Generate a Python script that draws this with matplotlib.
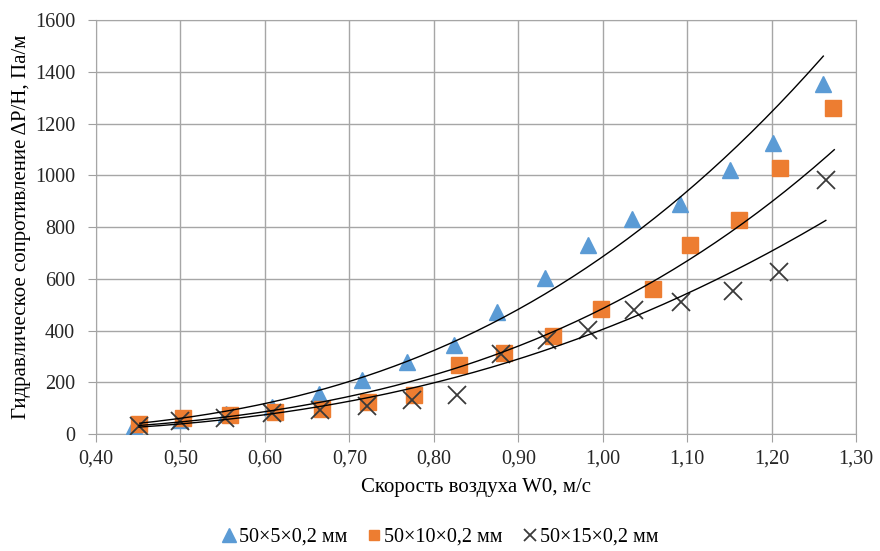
import numpy as np
import matplotlib as mpl

mpl.use("Agg")
import matplotlib.pyplot as plt  # noqa

plt.rcParams['font.family'] = ['Liberation Serif', 'DejaVu Serif']

# 50x5x0,2 mm
w1 = [0.445, 0.500, 0.554, 0.608, 0.664, 0.715, 0.768, 0.824, 0.875, 0.932,
      0.982, 1.034, 1.091, 1.150, 1.202, 1.261]
p1 = [30, 55, 77, 104, 155, 209, 278, 344, 471, 603,
      730, 831, 889, 1020, 1125, 1353]
# 50x10x0,2 mm
w2 = [0.451, 0.503, 0.559, 0.612, 0.668, 0.722, 0.777, 0.830, 0.883, 0.941,
      0.998, 1.059, 1.103, 1.161, 1.210, 1.273]
p2 = [39, 62, 73, 85, 97, 124, 151, 267, 313, 379,
      483, 560, 730, 827, 1028, 1260]
# 50x15x0,2 mm
w3 = [0.451, 0.500, 0.553, 0.609, 0.665, 0.721, 0.774, 0.828, 0.880, 0.934,
      0.983, 1.037, 1.093, 1.154, 1.208, 1.264]
p3 = [31, 50, 62, 81, 93, 108, 131, 151, 309, 363,
      402, 479, 510, 553, 626, 982]

# points
t1_w = [0.452, 0.60, 0.80, 0.857, 0.90, 1.00, 1.10, 1.20, 1.261]
t1_p = [42, 116, 328, 411, 487, 676, 916, 1256, 1472]
t2_w = [0.451, 0.60, 0.80, 1.00, 1.20, 1.274]
t2_p = [33, 86, 228, 487, 904, 1090]
t3_w = [0.451, 0.60, 0.80, 1.00, 1.20, 1.264]
t3_p = [27, 73, 196, 420, 703, 815]

labels = ['50×5×0,2 мм', '50×10×0,2 мм', '50×15×0,2 мм']
xticks = [0.40, 0.50, 0.60, 0.70, 0.80, 0.90, 1.00, 1.10, 1.20, 1.30]
yticks = [0, 200, 400, 600, 800, 1000, 1200, 1400, 1600]


def smooth_curve(x, y):
    # smooth trendline through the read points (quadratic in log-log)
    c = np.polyfit(np.log(x), np.log(y), 2)
    xs = np.linspace(min(x), max(x), 200)
    return xs, np.exp(np.polyval(c, np.log(xs)))


fig = plt.figure(figsize=(8.8, 5.51), dpi=100)
ax = fig.add_axes([0.109, 0.2123, 0.864, 0.7514])

ax.plot(w1, p1, '^', color='#5B9BD5', ms=12, mec='#5B9BD5', label=labels[0], zorder=3)
ax.plot(w2, p2, 's', color='#ED7D31', ms=12, mec='#ED7D31', label=labels[1], zorder=3)
ax.plot(w3, p3, 'x', color='#3a3a3a', ms=13, mew=1.3, label=labels[2], zorder=3)

for w, p in ((t1_w, t1_p), (t2_w, t2_p), (t3_w, t3_p)):
    xs, ys = smooth_curve(w, p)
    ax.plot(xs, ys, '-', color='black', lw=1.0, zorder=4)

ax.set_xlim(0.40, 1.30)
ax.set_ylim(0, 1600)
ax.set_xticks(xticks)
ax.set_yticks(yticks)
ax.set_xticklabels([f'{v:.2f}'.replace('.', ',') for v in xticks])
ax.tick_params(labelsize=14.5, color='#a0a0a0', length=6, labelcolor='#262626')
ax.tick_params(axis='y', pad=9)
ax.tick_params(axis='x', pad=5)
ax.grid(True, color='#a6a6a6', lw=1)
for s in ax.spines.values():
    s.set_color('#a6a6a6')

ax.set_xlabel('Скорость воздуха W0, м/с', fontsize=15, labelpad=7)
ax.set_ylabel('Гидравлическое сопротивление ΔP/H, Па/м', fontsize=15, labelpad=3)

leg = fig.legend(loc='center', bbox_to_anchor=(0.5, 0.025), ncol=3, frameon=False,
                 fontsize=14.5, handlelength=0.7, handletextpad=0.15, columnspacing=1.0)
for h, ms in zip(leg.legend_handles, (9.5, 7.5, 8.5)):
    h.set_markersize(ms)

fig.savefig('out.png', dpi=100)
